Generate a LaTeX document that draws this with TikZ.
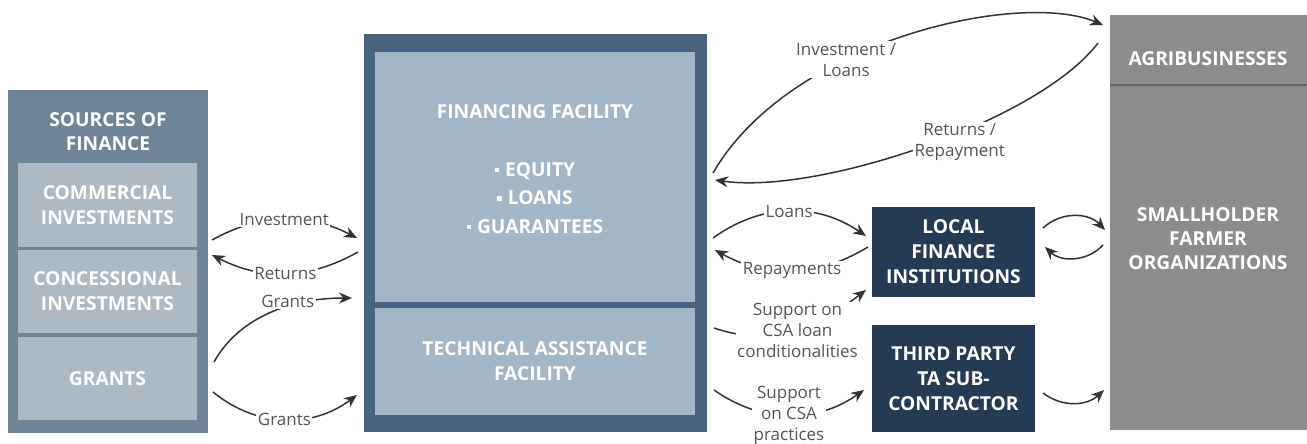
\documentclass[tikz,border=0pt]{standalone}
\usepackage{fontspec}
\setmainfont{Open Sans}
\usetikzlibrary{positioning,arrows.meta,calc}

\definecolor{srcback}{HTML}{6F8497}
\definecolor{srcfill}{HTML}{ADBAC4}
\definecolor{facback}{HTML}{48637F}
\definecolor{facfill}{HTML}{A3B6C6}
\definecolor{navy}{HTML}{243B53}
\definecolor{farmgrey}{HTML}{8C8C8C}
\definecolor{linegrey}{HTML}{666666}
\definecolor{arrowgrey}{HTML}{333333}
\definecolor{labelgrey}{HTML}{555555}

\newcommand{\sqbul}{\rule[0.22em]{0.24em}{0.24em}\hspace{0.3em}}

\begin{document}
\begin{tikzpicture}[x=1pt, y=-1pt,
    box/.style={rectangle, anchor=north west, inner sep=0pt, outer sep=0pt, align=center, text=white, font=\fontsize{19.2}{25}\selectfont\bfseries},
    boxtxt/.style={align=center, text=white, inner sep=0pt, font=\fontsize{19.2}{24}\selectfont\bfseries},
    lbl/.style={fill=white, inner sep=1.5pt, align=center, text=labelgrey, font=\fontsize{17}{21}\selectfont},
    arrow/.style={-{Stealth[length=13pt, width=11pt]}, line width=1.5pt, draw=arrowgrey}
]
\useasboundingbox (0,0) rectangle (1307,444);

% sources of finance
\node[box, fill=srcback, minimum width=200pt, minimum height=343pt] (src) at (8,90) {};
\node[boxtxt] (srctitle) at (108,132) {SOURCES OF\\FINANCE};
\node[box, fill=srcfill, minimum width=179pt, minimum height=84pt] (comm) at (18,163) {COMMERCIAL\\INVESTMENTS};
\node[box, fill=srcfill, minimum width=179pt, minimum height=83pt, below=3pt of comm] (conc) {CONCESSIONAL\\INVESTMENTS};
\node[box, fill=srcfill, minimum width=179pt, minimum height=83pt, below=4pt of conc] (grants) {GRANTS};

% facilities
\node[box, fill=facback, minimum width=343pt, minimum height=398pt] (fac) at (364,34) {};
\node[box, fill=facfill, minimum width=320pt, minimum height=250pt] (ff) at (375,52) {};
\node[boxtxt] (fftitle) at (535,112) {FINANCING FACILITY};
\node[boxtxt, font=\fontsize{19.2}{28.5}\selectfont\bfseries] (ffitems) at (535,198) {\sqbul EQUITY\\\sqbul LOANS\\\sqbul GUARANTEES};
\node[box, fill=facfill, minimum width=320pt, minimum height=107pt, below=6pt of ff] (ta) {TECHNICAL ASSISTANCE\\FACILITY};

% local actors
\node[box, fill=navy, minimum width=163pt, minimum height=90pt] (lfi) at (872,207) {LOCAL\\FINANCE\\INSTITUTIONS};
\node[box, fill=navy, minimum width=163pt, minimum height=107pt, below=28pt of lfi] (tpc) {THIRD PARTY\\TA SUB-\\CONTRACTOR};

% farmers
\node[box, fill=farmgrey, minimum width=197pt, minimum height=70pt] (agri) at (1110,15) {};
\node[box, fill=farmgrey, minimum width=197pt, minimum height=345pt, below=0pt of agri] (sfo) {};
\draw[linegrey, line width=1.5pt] (agri.south west) -- (agri.south east);
\node[boxtxt] (agritxt) at (1208,59) {AGRIBUSINESSES};
\node[boxtxt] (sfotxt) at (1208,239) {SMALLHOLDER\\FARMER\\ORGANIZATIONS};

% sources <-> facilities
\draw[arrow] ($(src.north east)+(4,150)$) to[bend left=28] node[lbl] {Investment} ($(fac.north west)+(-7,204)$);
\draw[arrow] ($(fac.north west)+(-6,218)$) to[bend left=28] node[lbl] {Returns} ($(src.north east)+(4,165)$);
\draw[arrow] ($(src.north east)+(6,272)$) .. controls +(25,-45) and +(-60,0) .. ($(fac.north west)+(-12,264)$) node[lbl, pos=0.62, yshift=5pt] {Grants};
\draw[arrow] ($(src.north east)+(5,302)$) to[bend right=38] node[lbl] {Grants} ($(fac.north west)+(-7,361)$);

% facilities <-> agribusinesses
\draw[arrow] ($(fac.north east)+(6,139)$) .. controls +(77,-133) and +(-83,-35) .. ($(agri.north west)+(-7,10)$) node[lbl, pos=0.37] {Investment /\\Loans};
\draw[arrow] ($(agri.north west)+(-12,28)$) .. controls +(-58,77) and +(105,15) .. ($(fac.north east)+(8,146)$) node[lbl, pos=0.42, yshift=-10pt] {Returns /\\Repayment};

% facilities <-> local actors
\draw[arrow] ($(fac.north east)+(6,204)$) to[bend left=35] node[lbl] {Loans} ($(lfi.north west)+(-6,29)$);
\draw[arrow] ($(lfi.north west)+(-4,40)$) to[bend left=30] node[lbl] {Repayments} ($(fac.north east)+(8,216)$);
\draw[arrow] ($(fac.north east)+(7,294)$) .. controls +(66,22) and +(-46,35) .. ($(lfi.south west)+(-6,-7)$) node[lbl, pos=0.5] {Support on\\CSA loan\\conditionalities};
\draw[arrow] ($(fac.north east)+(7,356)$) to[bend right=35] node[lbl] {Support\\on CSA\\practices} ($(tpc.north west)+(-8,65)$);

% local actors <-> farmers
\draw[arrow] ($(lfi.north east)+(8,21)$) to[bend left=45] ($(sfo.north west)+(-5,145)$);
\draw[arrow] ($(sfo.north west)+(-7,160)$) to[bend left=45] ($(lfi.north east)+(10,40)$);
\draw[arrow] ($(tpc.north east)+(8,68)$) to[bend right=40] ($(sfo.north west)+(-6,305)$);
\end{tikzpicture}
\end{document}
